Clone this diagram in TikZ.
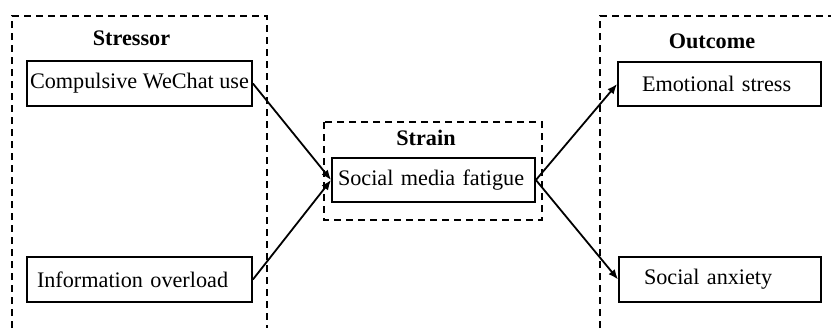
\documentclass[tikz,border=0pt]{standalone}
\usepackage{fontspec}
\setmainfont{Liberation Serif}
\usetikzlibrary{arrows.meta}

\tikzset{
	every node/.style={font=\fontsize{11.1}{13.3}\selectfont},
	group/.style={dash pattern=on 3.5pt off 2.5pt, line width=0.6pt},
	title/.style={font=\fontsize{11.1}{13.3}\selectfont\bfseries, anchor=base, inner sep=0pt},
	factor/.style={draw, line width=0.9pt, minimum height=22.5pt, inner ysep=0pt},
	flow/.style={-{Latex[length=5pt,width=4pt]}, line width=0.9pt}
}

\begin{document}
\begin{tikzpicture}[x=0.5pt,y=-0.5pt]

	\useasboundingbox (0,0) rectangle (831,328);

	% Dashed groups
	\draw[group] (12,328) -- (12,16) -- (267,16) -- (267,328);
	\draw[group] (324,122) rectangle (542,220);
	\draw[group] (600,328) -- (600,16) -- (831,16);

	% Group titles
	\node[title] (stressor) at (131.5,45) {Stressor};
	\node[title] (strain) at (426,145) {Strain};
	\node[title] (outcome) at (712,48) {Outcome};

	% Stressor
	\node[factor, minimum width=112.5pt, inner xsep=0pt] (wechat) at (139.5,83.5) {Compulsive WeChat use};
	\node[factor, inner xsep=5pt, text width=102.5pt, align=left] (overload) at (139.5,279.5) {Information overload};

	% Strain
	\node[factor, minimum height=22pt, inner xsep=3pt, text width=95.5pt, align=left] (fatigue) at (433.5,180) {Social media fatigue};

	% Outcome
	\node[factor, minimum height=22pt, inner xsep=12pt, text width=77.5pt, align=left] (emotion) at (719.5,84) {Emotional stress};
	\node[factor, inner xsep=12.5pt, text width=76pt, align=left] (anxiety) at (720,279.5) {Social anxiety};

	% Paths
	\draw[flow] (wechat.east) -- (fatigue.west);
	\draw[flow] (overload.east) -- (fatigue.west);
	\draw[flow] (fatigue.east) -- (emotion.west);
	\draw[flow] (fatigue.east) -- (anxiety.west);

\end{tikzpicture}
\end{document}
